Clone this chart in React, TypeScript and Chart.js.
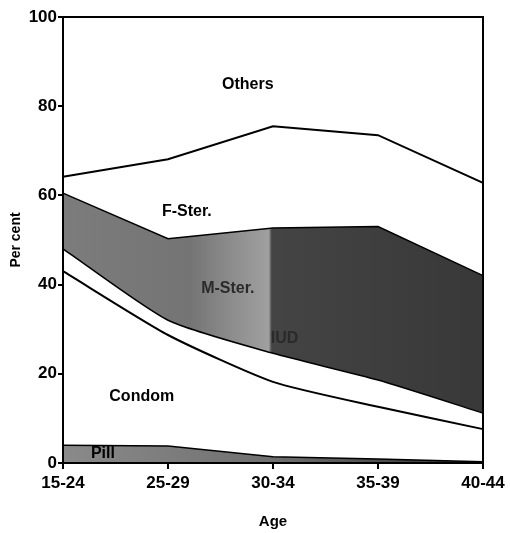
import React, { useEffect, useRef } from "react";
import { Chart, registerables } from "chart.js";

Chart.register(...registerables);

const ageGroups = ["15-24", "25-29", "30-34", "35-39", "40-44"];
// cumulative upper boundaries (per cent)
const pillTop = [4.0, 3.8, 1.4, 0.9, 0.3];
const condomTop = [43, 28.7, 18.2, 12.6, 7.6];
const bandTop = [48, 32, 24.6, 18.6, 11.2];
const sterTop = [60.5, 50.3, 52.7, 53, 42];
const fSterTop = [64.2, 68.1, 75.5, 73.5, 62.8];
const yTicks = [0, 20, 40, 60, 80, 100];

const regionLabels = ["Others", "F-Ster.", "M-Ster.", "IUD", "Condom", "Pill"];
const labelIndex = [1.76, 1.18, 1.57, 2.11, 0.75, 0.38];
const labelValue = [84.8, 56.3, 39.2, 28, 14.8, 2.2];

const FONT = "'Liberation Sans', Arial, sans-serif";

function greyFill(ctx: any) {
  const chart = ctx.chart;
  const area = chart.chartArea;
  if (!area) return "#555";
  const g = chart.ctx.createLinearGradient(area.left, 0, area.right, 0);
  g.addColorStop(0, "#7c7c7c");
  g.addColorStop(0.3, "#747474");
  g.addColorStop(0.4, "#8c8c8c");
  g.addColorStop(0.49, "#a0a0a0");
  g.addColorStop(0.497, "#444444");
  g.addColorStop(1, "#383838");
  return g;
}

function pillFill(ctx: any) {
  const chart = ctx.chart;
  const area = chart.chartArea;
  if (!area) return "#777";
  const g = chart.ctx.createLinearGradient(area.left, 0, area.right, 0);
  g.addColorStop(0, "#8a8a8a");
  g.addColorStop(0.5, "#707070");
  g.addColorStop(1, "#303030");
  return g;
}

let speckle: CanvasPattern | null = null;
function speckleFill(ctx: any) {
  if (speckle) return speckle;
  const size = 97;
  const c = document.createElement("canvas");
  c.width = size;
  c.height = size;
  const cx = c.getContext("2d")!;
  for (let y = 0; y < size; y++) {
    for (let x = 0; x < size; x++) {
      let h = (x * 374761393 + y * 668265263) | 0;
      h = Math.imul(h ^ (h >>> 13), 1274126177);
      h = (h ^ (h >>> 16)) >>> 0;
      const r = h / 4294967295;
      if (r < 0.14) {
        cx.fillStyle = "rgba(255,255,255,0.35)";
        cx.fillRect(x, y, 1, 1);
      } else if (r > 0.86) {
        cx.fillStyle = "rgba(0,0,0,0.3)";
        cx.fillRect(x, y, 1, 1);
      }
    }
  }
  speckle = ctx.chart.ctx.createPattern(c, "repeat");
  return speckle;
}

const framePlugin = {
  id: "frame",
  afterDatasetsDraw(chart: any) {
    const { ctx, chartArea: a } = chart;
    ctx.save();
    ctx.strokeStyle = "#000";
    ctx.lineWidth = 2;
    ctx.strokeRect(a.left, a.top, a.right - a.left, a.bottom - a.top);
    ctx.restore();
  },
};

const labelPlugin = {
  id: "regionLabels",
  afterDatasetsDraw(chart: any) {
    const { ctx, scales } = chart;
    ctx.save();
    ctx.font = `bold 16px ${FONT}`;
    ctx.textAlign = "center";
    ctx.textBaseline = "middle";
    regionLabels.forEach((t, i) => {
      const x = scales.x.getPixelForValue(labelIndex[i]);
      const y = scales.y.getPixelForValue(labelValue[i]);
      ctx.fillStyle = t === "M-Ster." || t === "IUD" ? "#2a2a2a" : "#000";
      ctx.fillText(t, x, y);
    });
    ctx.restore();
  },
};

export default function App() {
  const ref = useRef<HTMLCanvasElement>(null);
  useEffect(() => {
    if (!ref.current) return;
    const line = (data: number[], bg: any, w: number, tension = 0) => ({
      data,
      fill: "-1",
      backgroundColor: bg,
      borderColor: "#000",
      borderWidth: w,
      pointRadius: 0,
      tension,
    });
    const chart = new Chart(ref.current, {
      type: "line",
      data: {
        labels: ageGroups,
        datasets: [
          { ...line(pillTop, pillFill, 1.5), fill: "origin", label: "Pill" },
          { ...line(condomTop, "#fff", 2, 0.2), label: "Condom" },
          { ...line(bandTop, "#fff", 1.5, 0.2), label: "Other" },
          { ...line(sterTop, greyFill, 1.5), label: "IUD / M-Ster." },
          { ...line(fSterTop, "#fff", 2), label: "F-Ster." },
          { ...line(sterTop, speckleFill, 0), fill: 2, label: "texture" },
        ],
      },
      options: {
        responsive: false,
        animation: false,
        devicePixelRatio: 1,
        layout: { padding: { left: 4, right: 27, top: 17, bottom: 0 } },
        plugins: { legend: { display: false }, tooltip: { enabled: false } },
        scales: {
          x: {
            type: "category",
            offset: false,
            grid: {
              display: true,
              drawOnChartArea: false,
              drawTicks: true,
              tickLength: 6,
              color: "#000",
              lineWidth: 2,
            },
            border: { display: true, color: "#000", width: 2 },
            ticks: {
              color: "#000",
              font: { family: FONT, size: 17, weight: "bold" },
              padding: 4,
              maxRotation: 0,
              autoSkip: false,
            },
            title: {
              display: true,
              text: "Age",
              color: "#000",
              font: { family: FONT, size: 15, weight: "bold" },
              padding: { top: 0, bottom: 2 },
            },
            afterFit(scale: any) {
              scale.height = 70;
            },
          },
          y: {
            min: 0,
            max: 100,
            afterBuildTicks(scale: any) {
              scale.ticks = yTicks.map((v) => ({ value: v }));
            },
            grid: {
              display: true,
              drawOnChartArea: false,
              drawTicks: true,
              tickLength: 5,
              color: "#000",
              lineWidth: 2,
            },
            border: { display: true, color: "#000", width: 2 },
            ticks: {
              color: "#000",
              font: { family: FONT, size: 17, weight: "bold" },
              padding: 1,
            },
            title: {
              display: true,
              text: "Per cent",
              color: "#000",
              font: { family: FONT, size: 14, weight: "bold" },
              padding: { top: 4, bottom: 0 },
            },
            afterFit(scale: any) {
              scale.width = 59;
            },
          },
        },
      },
      plugins: [framePlugin, labelPlugin],
    });
    return () => chart.destroy();
  }, []);
  return (
    <canvas
      ref={ref}
      width={510}
      height={533}
      style={{ position: "fixed", left: 0, top: 0, width: 510, height: 533, display: "block", background: "#fff" }}
    />
  );
}
